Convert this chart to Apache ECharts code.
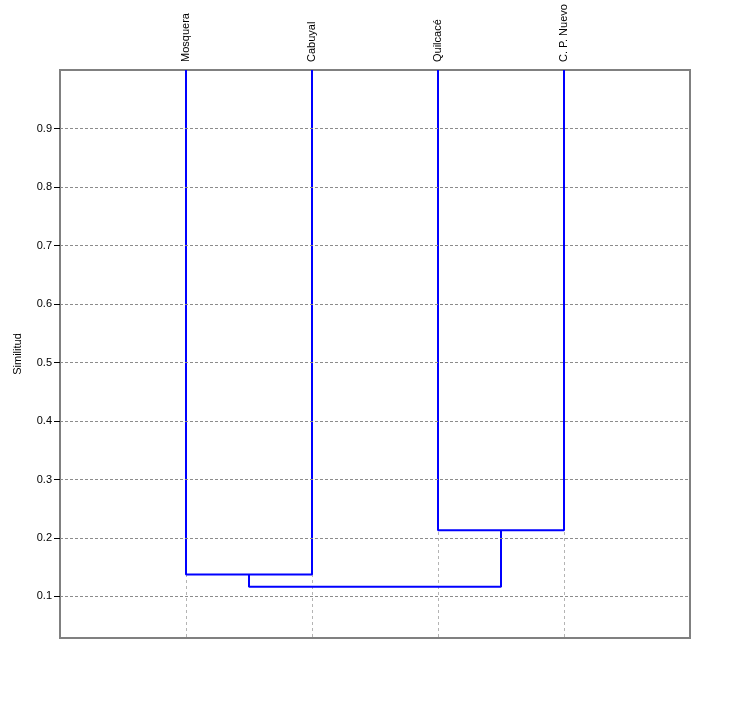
<!DOCTYPE html>
<html>
<head>
<meta charset="utf-8">
<script src="https://cdn.jsdelivr.net/npm/echarts@6/dist/echarts.min.js"></script>
<style>
  html, body { margin: 0; padding: 0; background: #fff; }
  #chart { width: 750px; height: 709px; }
</style>
</head>
<body>
<div id="chart"></div>
<script>
// hojas del dendrograma (orden de izquierda a derecha)
const leaves = ['Mosquera', 'Cabuyal', 'Quilcacé', 'C. P. Nuevo']
const leafHeight = 1.0
// uniones: [hijo izq, hijo der, similitud]; índices >= 4 son clusters previos
const merges = [
  [0, 1, 0.1376],
  [2, 3, 0.2134],
  [4, 5, 0.1166]
]
const yTicks = [0.1, 0.2, 0.3, 0.4, 0.5, 0.6, 0.7, 0.8, 0.9]

// posición y altura de cada nodo
const nodeX = leaves.map((_, i) => i + 1)
const nodeH = leaves.map(() => leafHeight)
const links = []
merges.forEach(([a, b, h]) => {
  links.push([[nodeX[a], nodeH[a]], [nodeX[a], h], [nodeX[b], h], [nodeX[b], nodeH[b]]])
  nodeX.push((nodeX[a] + nodeX[b]) / 2)
  nodeH.push(h)
})

const chart = echarts.init(document.getElementById('chart'))

const font = 'Arial, "Liberation Sans", sans-serif'

chart.setOption({
  animation: false,
  grid: {
    left: 60,
    right: 60,
    top: 70,
    bottom: 71,
    outerBoundsMode: 'none',
    show: true,
    borderColor: '#808080',
    borderWidth: 2
  },
  xAxis: {
    type: 'value',
    position: 'top',
    min: 0,
    max: leaves.length + 1,
    interval: 1,
    axisLine: { show: false },
    axisTick: { show: false },
    axisLabel: {
      rotate: -90,
      margin: 8,
      fontFamily: font,
      fontSize: 11,
      color: '#000',
      formatter: v => leaves[v - 1] || ''
    },
    splitLine: {
      show: true,
      showMinLine: false,
      showMaxLine: false,
      lineStyle: { type: [3, 3], color: '#b4b4b4', width: 1 }
    }
  },
  yAxis: {
    type: 'value',
    min: 0.029,
    max: 1.0,
    name: 'Similitud',
    nameLocation: 'middle',
    nameGap: 37,
    nameTextStyle: { fontFamily: font, fontSize: 11, color: '#000' },
    axisLine: { show: true, lineStyle: { color: '#808080', width: 2 } },
    axisTick: {
      show: true,
      length: 6,
      customValues: yTicks,
      lineStyle: { color: '#000', width: 1 }
    },
    axisLabel: {
      margin: 8,
      customValues: yTicks,
      fontFamily: font,
      fontSize: 11,
      color: '#000',
      formatter: v => v.toFixed(1)
    },
    splitLine: { show: false }
  },
  series: [
    {
      type: 'line',
      data: [],
      silent: true,
      z: 1,
      markLine: {
        silent: true,
        symbol: ['none', 'none'],
        label: { show: false },
        lineStyle: { type: [3, 2], color: '#8c8c8c', width: 1 },
        data: yTicks.map(v => ({ yAxis: v }))
      }
    },
    ...links.map(path => ({
      type: 'line',
      data: path,
      symbol: 'none',
      silent: true,
      z: 3,
      lineStyle: { color: '#0000ff', width: 2 }
    }))
  ]
})
</script>
</body>
</html>
